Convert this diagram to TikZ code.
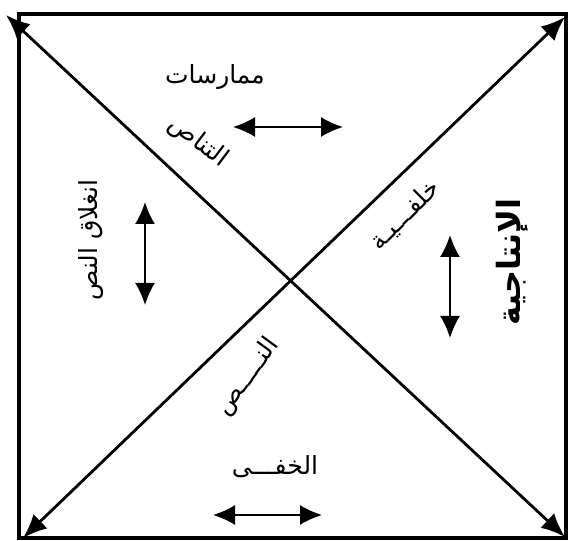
\documentclass[tikz,border=0pt]{standalone}
\usepackage{fontspec}
\newfontfamily\arabicfont[Script=Arabic]{DejaVu Sans}
\TeXXeTstate=1
\usetikzlibrary{arrows.meta}

\begin{document}
\begin{tikzpicture}[x=1pt, y=1pt, >={Latex[length=22pt,width=20pt]}]
        % ==== DEFINITIONS ====
        \def\W{568} % picture width
        \def\H{541} % picture height
        \tikzset{
            lbl/.style={inner sep=0pt, font=\arabicfont\fontsize{25}{28}\selectfont},
            diag/.style={<->, line width=2.8pt, >={Latex[length=24pt,width=20pt]}},
            pair/.style={<->, line width=1.8pt}
        }
        \useasboundingbox (0,0) rectangle (\W,\H);

        % ==== FRAME ====
        \coordinate (fsw) at (19,3);
        \coordinate (fne) at (566,527);
        \draw[line width=3.2pt] (fsw) rectangle (fne);

        % ==== DIAGONALS ====
        \coordinate (nw) at (6,526);
        \coordinate (se) at (565,4);
        \coordinate (ne) at (565,524);
        \coordinate (sw) at (23,3);
        \draw[diag] (nw) -- (se);
        \draw[diag] (sw) -- (ne);

        % ==== LABELS ====
        \node[lbl] (prac) at (215,464) {\beginR ممارسات\endR};
        \node[lbl, rotate=-37] (intx) at (198,399) {\beginR التناص\endR};
        \node[lbl, rotate=90] (closed) at (91,301) {\beginR انغلاق النص\endR};
        \node[lbl, rotate=45] (back) at (405,326) {\beginR خلفـــيـة\endR};
        \node[lbl, rotate=90, font=\arabicfont\bfseries\fontsize{32}{36}\selectfont] (prod) at (512,279) {\beginR الإنتاجية\endR};
        \node[lbl, rotate=54] (txt) at (248,164) {\beginR النـــــص\endR};
        \node[lbl] (hidden) at (275,74) {\beginR الخفـــى\endR};

        % ==== SMALL ARROWS ====
        \coordinate (t1) at (233,414);
        \coordinate (t2) at (343,414);
        \coordinate (l1) at (145,339);
        \coordinate (l2) at (145,236);
        \coordinate (r1) at (450,306);
        \coordinate (r2) at (450,203);
        \coordinate (b1) at (213,26);
        \coordinate (b2) at (322,26);
        \draw[pair] (t1) -- (t2);
        \draw[pair] (l1) -- (l2);
        \draw[pair] (r1) -- (r2);
        \draw[pair] (b1) -- (b2);

    \end{tikzpicture}
\end{document}
